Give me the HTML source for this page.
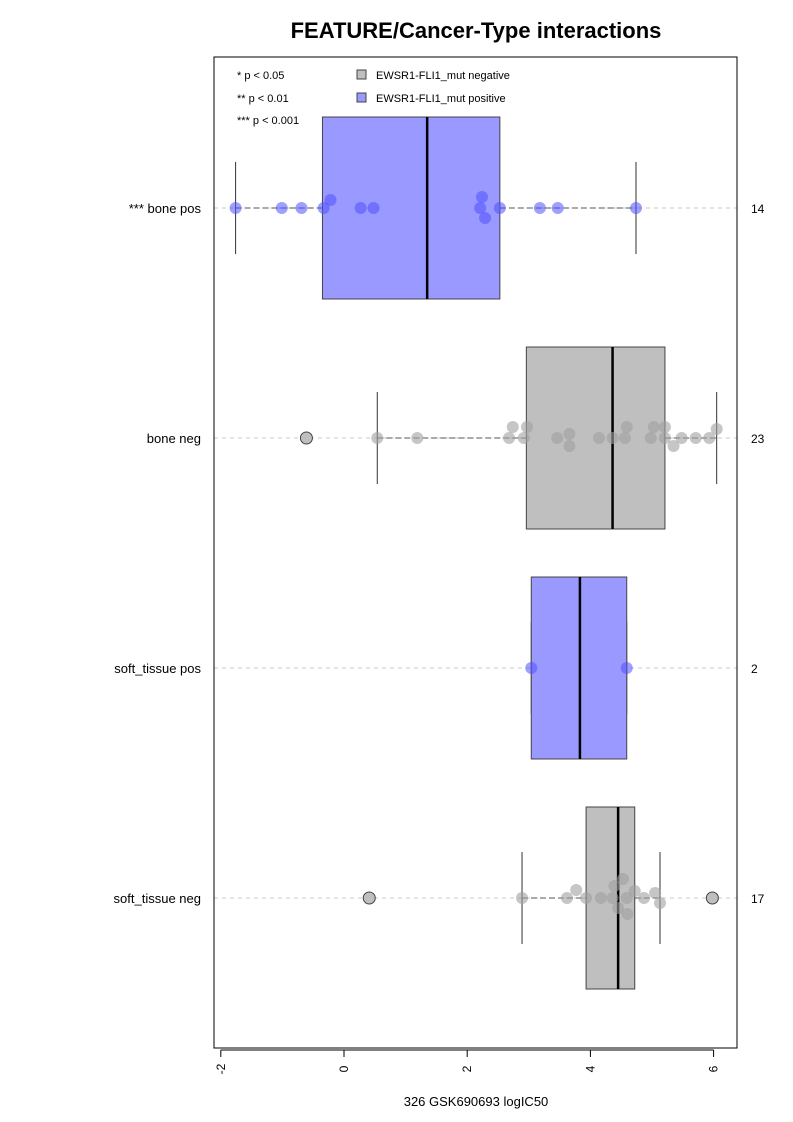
<!DOCTYPE html>
<html><head><meta charset="utf-8"><style>
html,body{margin:0;padding:0;background:#fff;}
svg{display:block;font-family:"Liberation Sans",Arial,sans-serif;}
</style></head><body>
<svg id="chart" width="793" height="1122" viewBox="0 0 793 1122">
<text x="476" y="38" text-anchor="middle" font-size="22" font-weight="bold">FEATURE/Cancer-Type interactions</text>
<g id="plot"></g>
<rect x="214" y="57" width="523" height="991" fill="none" stroke="#000" stroke-width="1"/>
<g font-size="11">
<text x="237" y="79">* p &lt; 0.05</text>
<text x="237" y="102">** p &lt; 0.01</text>
<text x="237" y="124">*** p &lt; 0.001</text>
<rect x="357" y="70" width="9" height="9" fill="#bfbfbf" stroke="#444"/>
<text x="376" y="79">EWSR1-FLI1_mut negative</text>
<rect x="357" y="93" width="9" height="9" fill="#9999ff" stroke="#444"/>
<text x="376" y="102">EWSR1-FLI1_mut positive</text>
</g>
<text x="476" y="1106" text-anchor="middle" font-size="13">326 GSK690693 logIC50</text>
</svg>
<script>
const categories = ["*** bone pos", "bone neg", "soft_tissue pos", "soft_tissue neg"];
const counts = ["14", "23", "2", "17"];
const positive = [true, false, true, false];
const q1 = [-0.35, 2.96, 3.04, 3.93];
const medians = [1.35, 4.36, 3.83, 4.45];
const q3 = [2.53, 5.21, 4.59, 4.72];
const whiskLo = [-1.76, 0.54, 3.04, 2.89];
const whiskHi = [4.74, 6.05, 4.59, 5.13];
const outliers = [[], [-0.61], [], [0.41, 5.98]];
const pts = [
 [-1.76,-1.01,-0.69,-0.33,-0.22,0.27,0.48,2.21,2.24,2.29,2.53,3.18,3.47,4.74],
 [0.54,1.19,2.74,2.68,2.97,2.92,3.46,3.66,3.66,4.14,4.36,4.59,4.56,4.98,5.03,5.21,5.21,5.35,5.48,5.71,5.93,6.05],
 [3.04,4.59],
 [2.89,3.62,3.77,3.93,4.17,4.36,4.39,4.53,4.45,4.59,4.60,4.72,4.87,5.05,5.13]
];
const jitter = [
 [0,0,0,0,-8,0,0,0,-11,10,0,0,0,0],
 [0,0,-11,0,-11,0,0,-4,8,0,0,-11,0,0,-11,-11,0,8,0,0,0,-9],
 [0,0],
 [0,0,-8,0,0,0,-12,-19,10,0,16,-7,0,-5,5]
];
const xTicks = [-2, 0, 2, 4, 6];

const NS = "http://www.w3.org/2000/svg";
const g = document.getElementById("plot");
const xs = v => 344 + v * 61.6;
const ys = i => 208 + i * 230;
function mk(tag, attrs, parent) {
  const e = document.createElementNS(NS, tag);
  for (const k in attrs) e.setAttribute(k, attrs[k]);
  (parent || g).appendChild(e);
  return e;
}
categories.forEach((c, i) => {
  const y = ys(i);
  let e = mk("line", {x1: 214, x2: 737, y1: y, y2: y, stroke: "#c8c8c8", "stroke-dasharray": "4,4"});
  
  
  const fill = positive[i] ? "#9999ff" : "#bfbfbf";
  e = mk("line", {x1: xs(whiskLo[i]), x2: xs(q1[i]), y1: y, y2: y, stroke: "#555", "stroke-dasharray": "6,3"});
  
  
  e = mk("line", {x1: xs(q3[i]), x2: xs(whiskHi[i]), y1: y, y2: y, stroke: "#555", "stroke-dasharray": "6,3"});
  
  
  e = mk("line", {x1: xs(whiskLo[i]), x2: xs(whiskLo[i]), y1: y - 46, y2: y + 46, stroke: "#333"});
  
  
  e = mk("line", {x1: xs(whiskHi[i]), x2: xs(whiskHi[i]), y1: y - 46, y2: y + 46, stroke: "#333"});
  
  
  e = mk("rect", {x: xs(q1[i]), y: y - 91, width: xs(q3[i]) - xs(q1[i]), height: 182, fill: fill, stroke: "#444"});
  
  
  e = mk("line", {x1: xs(medians[i]), x2: xs(medians[i]), y1: y - 91, y2: y + 91, stroke: "#000", "stroke-width": 2.5});
  
  
  outliers[i].forEach(v => {
    const o = mk("circle", {cx: xs(v), cy: y, r: 6, fill: "#bfbfbf", stroke: "#444"});
    
    
  });
  pts[i].forEach((v, j) => {
    const p = mk("circle", {cx: xs(v), cy: y + jitter[i][j], r: 6, fill: positive[i] ? "rgba(80,80,255,0.55)" : "rgba(160,160,160,0.6)"});
    
    
  });
  e = mk("text", {x: 201, y: y + 5, "text-anchor": "end", "font-size": 13});
  e.textContent = c;
  
  
  e = mk("text", {x: 751, y: y + 5, "font-size": 12});
  e.textContent = counts[i];
  
  
});
let ax = mk("line", {x1: xs(-2), x2: xs(6), y1: 1050, y2: 1050, stroke: "#000"});


xTicks.forEach(t => {
  const x = xs(t);
  let e = mk("line", {x1: x, x2: x, y1: 1050, y2: 1057, stroke: "#000"});
  
  
  e = mk("text", {x: 0, y: 0, "font-size": 12, "text-anchor": "middle", transform: `translate(${x + 4},1069) rotate(-90)`});
  e.textContent = t;
  
  
});
</script>
</body></html>
